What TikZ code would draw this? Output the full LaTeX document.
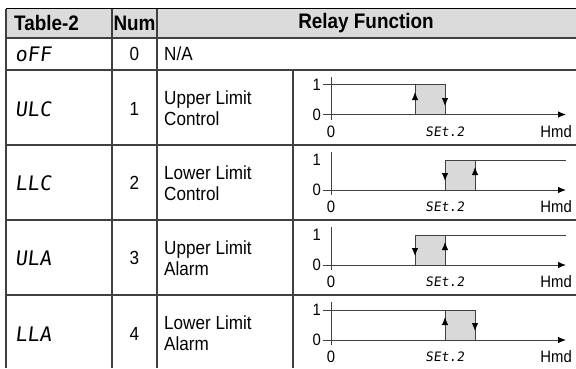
\documentclass[tikz,border=0pt]{standalone}
\usepackage{fontspec}
\setmainfont[FakeStretch=0.9]{Liberation Sans}
\newfontfamily\segfont[FakeSlant=0.12]{DejaVu Sans Mono}
\usetikzlibrary{arrows.meta}
\tikzstyle{line} = [draw,-{Latex[length=8pt,width=6.5pt,fill=black,color=black]}]
\tikzstyle{grid} = [draw=black!75, line width=1.1pt]
\tikzstyle{head} = [font=\fontsize{21}{21}\selectfont\bfseries, inner sep=0pt]
\tikzstyle{cell} = [font=\fontsize{19}{21}\selectfont, inner sep=0pt, align=left]
\tikzstyle{code} = [font=\segfont\fontsize{20}{20}\selectfont, inner sep=0pt, anchor=west]
\tikzstyle{setp} = [font=\segfont\fontsize{13}{13}\selectfont, inner sep=0pt]
\tikzstyle{lbl} = [font=\fontsize{16.5}{16.5}\selectfont, inner sep=0pt]
\tikzstyle{axis} = [draw=black!75, line width=0.9pt]
\tikzstyle{band} = [fill=black!15]

\begin{document}
\begin{tikzpicture}[x=1pt,y=-1pt]
	\useasboundingbox (0,0) rectangle (576,368);
	% table frame
	\fill[black!14] (6,8.5) rectangle (576,38);
	\draw[line width=1.4pt] (6,8.5) -- (576,8.5);
	\draw[grid] (6,38) -- (576,38);
	\foreach \y in {70,145,220,295} \draw[grid] (6,\y) -- (576,\y);
	\draw[grid] (6,8.5) -- (6,368);
	\draw[grid] (112,8.5) -- (112,368);
	\draw[grid] (157,8.5) -- (157,368);
	\draw[grid] (293,70) -- (293,368);
	% header
	\node[head, anchor=west] (tab) at (14,23) {Table-2};
	\node[head] (num) at (134.5,23) {Num};
	\node[head] (relay) at (366,23) {Relay Function};
	% rows
	\node[code] (off) at (15,54) {oFF};
	\node[cell] (n0) at (134.5,54) {0};
	\node[cell, anchor=west] (na) at (164,54) {N/A};
	\node[code] (ulc) at (15,109) {ULC};
	\node[cell] (n1) at (134.5,109) {1};
	\node[cell, anchor=west] (ulctxt) at (164,108) {Upper Limit\\Control};
	\node[code] (llc) at (15,183) {LLC};
	\node[cell] (n2) at (134.5,183) {2};
	\node[cell, anchor=west] (llctxt) at (164,183) {Lower Limit\\Control};
	\node[code] (ula) at (15,258) {ULA};
	\node[cell] (n3) at (134.5,258) {3};
	\node[cell, anchor=west] (ulatxt) at (164,258) {Upper Limit\\Alarm};
	\node[code] (lla) at (15,334) {LLA};
	\node[cell] (n4) at (134.5,334) {4};
	\node[cell, anchor=west] (llatxt) at (164,333) {Lower Limit\\Alarm};
	% ULC graph
	\fill[band] (415,84.5) rectangle (445,114.5);
	\draw[axis] (331,77) -- (331,120);
	\draw[axis,line] (323,114.5) -- (566,114.5);
	\draw[axis] (323,84.5) -- (445,84.5) -- (445,114.5);
	\draw[axis] (415,114.5) -- (415,84.5);
	\draw[axis,line] (415,114.5) -- (415,92);
	\draw[axis,line] (445,84.5) -- (445,106);
	\node[lbl, anchor=east] (ulcone) at (321,84.5) {1};
	\node[lbl, anchor=east] (ulczero) at (321,114.5) {0};
	\node[lbl] (ulcorg) at (331,132) {0};
	\node[setp] (ulcset) at (445,132) {SEt.2};
	\node[lbl, anchor=east] (ulchmd) at (572,132) {Hmd};
	% LLC graph
	\fill[band] (445,160) rectangle (475,190);
	\draw[axis] (331,152) -- (331,195);
	\draw[axis,line] (323,190) -- (566,190);
	\draw[axis] (445,190) -- (445,160) -- (566,160);
	\draw[axis] (475,160) -- (475,190);
	\draw[axis,line] (445,160) -- (445,181);
	\draw[axis,line] (475,190) -- (475,167);
	\node[lbl, anchor=east] (llcone) at (321,160) {1};
	\node[lbl, anchor=east] (llczero) at (321,190) {0};
	\node[lbl] (llcorg) at (331,207) {0};
	\node[setp] (llcset) at (445,207) {SEt.2};
	\node[lbl, anchor=east] (llchmd) at (572,207) {Hmd};
	% ULA graph
	\fill[band] (415,235) rectangle (445,265);
	\draw[axis] (331,227) -- (331,270);
	\draw[axis,line] (323,265) -- (566,265);
	\draw[axis] (415,265) -- (415,235) -- (566,235);
	\draw[axis] (445,235) -- (445,265);
	\draw[axis,line] (415,235) -- (415,256);
	\draw[axis,line] (445,265) -- (445,242);
	\node[lbl, anchor=east] (ulaone) at (321,235) {1};
	\node[lbl, anchor=east] (ulazero) at (321,265) {0};
	\node[lbl] (ulaorg) at (331,282) {0};
	\node[setp] (ulaset) at (445,282) {SEt.2};
	\node[lbl, anchor=east] (ulahmd) at (572,282) {Hmd};
	% LLA graph
	\fill[band] (445,310) rectangle (475,340);
	\draw[axis] (331,302) -- (331,345);
	\draw[axis,line] (323,340) -- (566,340);
	\draw[axis] (323,310) -- (475,310) -- (475,340);
	\draw[axis] (445,340) -- (445,310);
	\draw[axis,line] (445,340) -- (445,317);
	\draw[axis,line] (475,310) -- (475,331);
	\node[lbl, anchor=east] (llaone) at (321,310) {1};
	\node[lbl, anchor=east] (llazero) at (321,340) {0};
	\node[lbl] (llaorg) at (331,357) {0};
	\node[setp] (llaset) at (445,357) {SEt.2};
	\node[lbl, anchor=east] (llahmd) at (572,357) {Hmd};
\end{tikzpicture}
\end{document}
